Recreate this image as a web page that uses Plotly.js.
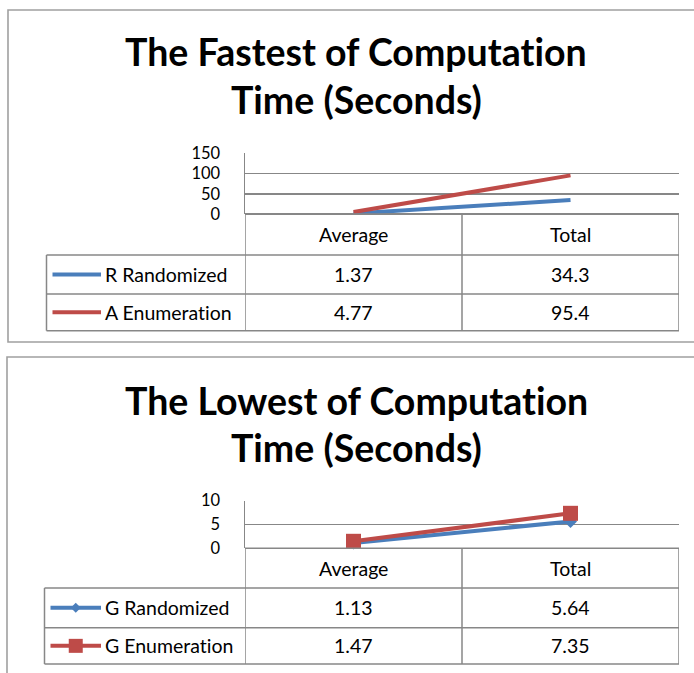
<!DOCTYPE html>
<html>
<head>
<meta charset="utf-8">
<script src="https://cdn.plot.ly/plotly-3.0.1.min.js"></script>
<style>
  html, body { margin: 0; padding: 0; background: #ffffff; }
  #chart { width: 694px; height: 673px; }
  text { font-variant-ligatures: none; font-feature-settings: "liga" 0, "clig" 0; }
</style>
</head>
<body>
<div id="chart"></div>
<script>
// ---------------- DATA ----------------
const categories = ['Average', 'Total'];

const fastTitle = ['The Fastest of Computation', 'Time (Seconds)'];
const fastNames = ['R Randomized', 'A Enumeration'];
const fastRandomized = [1.37, 34.3];
const fastEnumeration = [4.77, 95.4];
const fastTicks = [0, 50, 100, 150];

const lowTitle = ['The Lowest of Computation', 'Time (Seconds)'];
const lowNames = ['G Randomized', 'G Enumeration'];
const lowRandomized = [1.13, 5.64];
const lowEnumeration = [1.47, 7.35];
const lowTicks = [0, 5, 10];

// ---------------- STYLE ----------------
const W = 694, H = 673;
const BLUE = '#4a7ebb';
const RED = '#be4b48';
const GRID = '#878787';
const BORDER = '#a0a0a0';
const FONT = 'Lato, "Open Sans", sans-serif';
const TXT = 19.5;
const TICK = 16.5;
const px = x => x / W;
const py = y => 1 - y / H;

const panels = [
  {
    title: fastTitle, names: fastNames, series: [fastRandomized, fastEnumeration],
    ticks: fastTicks, range: [0, 150],
    box: [8, 10, 720, 342],
    titleY: [52, 99],
    plotTop: 153.3, plotBottom: 214,
    rows: [214, 255, 294, 330.7],
    tableLeft: 46.5,
    markers: [null, null],
    xa: 'x', ya: 'y'
  },
  {
    title: lowTitle, names: lowNames, series: [lowRandomized, lowEnumeration],
    ticks: lowTicks, range: [0, 10],
    box: [7, 357, 720, 700],
    titleY: [400, 447],
    plotTop: 500.7, plotBottom: 548.3,
    rows: [548.3, 588, 627.7, 664],
    tableLeft: 44.5,
    markers: [{symbol: 'diamond', size: 10}, {symbol: 'square', size: 15}],
    xa: 'x2', ya: 'y2'
  }
];
const plotLeft = 245, plotRight = 679;
const colors = [BLUE, RED];

const traces = [];
const shapes = [];
const annotations = [];
const layout = {
  width: W, height: H,
  margin: {l: 0, r: 0, t: 0, b: 0},
  paper_bgcolor: '#ffffff', plot_bgcolor: 'rgba(0,0,0,0)',
  showlegend: false,
  font: {family: FONT, size: TXT, color: '#000000'}
};

panels.forEach((p, i) => {
  const xName = i === 0 ? 'xaxis' : 'xaxis2';
  const yName = i === 0 ? 'yaxis' : 'yaxis2';
  layout[xName] = {
    domain: [px(plotLeft), px(plotRight)],
    type: 'category', range: [-0.5, 1.5],
    showgrid: false, zeroline: false, showline: false,
    showticklabels: false, ticks: '', fixedrange: true,
    anchor: p.ya
  };
  layout[yName] = {
    domain: [py(p.plotBottom), py(p.plotTop)],
    range: p.range, tickvals: p.ticks, ticktext: p.ticks.map(String),
    showgrid: true, gridcolor: GRID, gridwidth: 1.5,
    zeroline: true, zerolinecolor: GRID, zerolinewidth: 1.5,
    showline: true, linecolor: GRID, linewidth: 1.5,
    ticks: 'outside', ticklen: 20, tickcolor: 'rgba(0,0,0,0)',
    tickfont: {family: FONT, size: TICK, color: '#000000'},
    fixedrange: true, anchor: p.xa
  };

  p.series.forEach((vals, k) => {
    const t = {
      type: 'scatter', x: categories, y: vals, name: p.names[k],
      xaxis: p.xa, yaxis: p.ya,
      mode: p.markers[k] ? 'lines+markers' : 'lines',
      line: {color: colors[k], width: 4},
      cliponaxis: false
    };
    if (p.markers[k]) t.marker = {color: colors[k], symbol: p.markers[k].symbol, size: p.markers[k].size, line: {width: 0}};
    traces.push(t);
  });

  shapes.push({type: 'rect', xref: 'paper', yref: 'paper',
    x0: px(p.box[0]), x1: px(p.box[2]), y0: py(p.box[1]), y1: py(p.box[3]),
    line: {color: BORDER, width: 1.6}, fillcolor: 'rgba(0,0,0,0)', layer: 'below'});

  p.title.forEach((line, k) => {
    annotations.push({xref: 'paper', yref: 'paper', x: px(356), y: py(p.titleY[k]),
      xanchor: 'center', yanchor: 'middle', showarrow: false, text: '<b>' + line + '</b>',
      font: {family: FONT, size: 37.5, color: '#000000'}});
  });

  const r = p.rows;
  const xr = p.xa;
  shapes.push({type: 'line', xref: xr, yref: 'paper', x0: -0.5, x1: 1.5, y0: py(r[0]), y1: py(r[0]), line: {color: GRID, width: 1.5}});
  for (let j = 1; j < r.length; j++) {
    shapes.push({type: 'line', xref: 'paper', yref: 'paper', x0: px(p.tableLeft), x1: px(plotRight), y0: py(r[j]), y1: py(r[j]), line: {color: GRID, width: 1.5}});
  }
  [-0.5, 0.5, 1.5].forEach(b => {
    shapes.push({type: 'line', xref: xr, yref: 'paper', x0: b, x1: b, y0: py(r[0]), y1: py(r[3]), line: {color: GRID, width: 1.5}});
  });
  shapes.push({type: 'line', xref: 'paper', yref: 'paper', x0: px(p.tableLeft), x1: px(p.tableLeft), y0: py(r[1]), y1: py(r[3]), line: {color: GRID, width: 1.5}});

  categories.forEach(c => {
    annotations.push({xref: xr, yref: 'paper', x: c, y: py((r[0] + r[1]) / 2),
      xanchor: 'center', yanchor: 'middle', showarrow: false, text: c,
      font: {family: FONT, size: TXT, color: '#000000'}});
  });
  p.series.forEach((vals, k) => {
    const yc = py((r[k + 1] + r[k + 2]) / 2);
    vals.forEach((v, ci) => {
      annotations.push({xref: xr, yref: 'paper', x: categories[ci], y: yc,
        xanchor: 'center', yanchor: 'middle', showarrow: false, text: String(v),
        font: {family: FONT, size: TXT, color: '#000000'}});
    });
    annotations.push({xref: 'paper', yref: 'paper', x: px(103), y: yc,
      xanchor: 'left', yanchor: 'middle', showarrow: false, text: p.names[k],
      font: {family: FONT, size: TXT, color: '#000000'}});
    shapes.push({type: 'line', xref: 'paper', yref: 'paper', x0: px(p.tableLeft + 6), x1: px(101), y0: yc, y1: yc,
      line: {color: colors[k], width: 4}});
    if (p.markers[k]) {
      const cx = (p.tableLeft + 6 + 101) / 2;
      const cyPx = (r[k + 1] + r[k + 2]) / 2;
      let path;
      if (p.markers[k].symbol === 'diamond') {
        const s = 5;
        path = `M ${px(cx)} ${py(cyPx - s)} L ${px(cx + s)} ${py(cyPx)} L ${px(cx)} ${py(cyPx + s)} L ${px(cx - s)} ${py(cyPx)} Z`;
      } else {
        const s = 7;
        path = `M ${px(cx - s)} ${py(cyPx - s)} L ${px(cx + s)} ${py(cyPx - s)} L ${px(cx + s)} ${py(cyPx + s)} L ${px(cx - s)} ${py(cyPx + s)} Z`;
      }
      shapes.push({type: 'path', xref: 'paper', yref: 'paper', path: path, fillcolor: colors[k], line: {width: 0}});
    }
  });
});

layout.shapes = shapes;
layout.annotations = annotations;

Plotly.newPlot('chart', traces, layout, {displayModeBar: false, staticPlot: true});
</script>
</body>
</html>
